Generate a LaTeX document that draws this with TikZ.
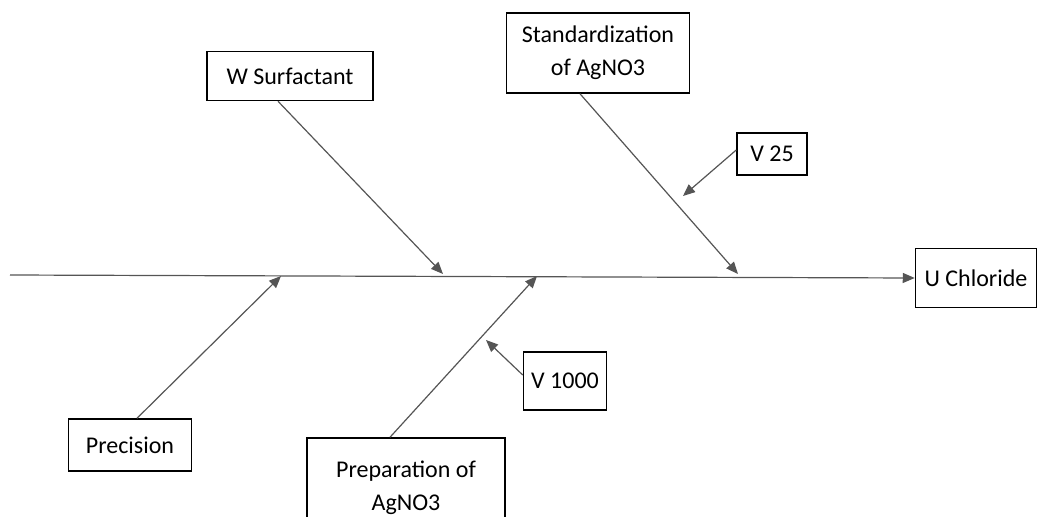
\documentclass[tikz,border=0pt]{standalone}
\usepackage{fontspec}
\setmainfont{Carlito}
\usetikzlibrary{arrows.meta}
\definecolor{boneGray}{HTML}{555555}

\tikzset{
  causebox/.style={draw=black, line width=1.5pt, fill=white, align=center,
    inner sep=0pt, font=\fontsize{24}{33}\selectfont},
  bone/.style={draw=boneGray, line width=1.2pt,
    -{Triangle[length=12pt,width=10pt]}}
}

\begin{document}
\begin{tikzpicture}[x=1pt,y=-1pt]
\useasboundingbox (0,0) rectangle (1037,517);
\clip (0,0) rectangle (1037,517);
% boxes
\node[causebox, minimum width=121pt, minimum height=59pt] (chloride) at (976,278) {U Chloride};
\node[causebox, minimum width=166pt, minimum height=49pt] (surf) at (290,76) {W Surfactant};
\node[causebox, minimum width=183pt, minimum height=80pt] (stand) at (598,53) {Standardization\\of AgNO3};
\node[causebox, minimum width=70pt, minimum height=42pt] (v25) at (772,154) {V 25};
\node[causebox, minimum width=123pt, minimum height=52pt] (prec) at (130,445) {Precision};
\node[causebox, minimum width=198pt, minimum height=110pt] (prep) at (406,493) {};
\node[font=\fontsize{24}{33}\selectfont, align=center] (preplab) at (406,488) {Preparation of\\AgNO3};
\node[causebox, minimum width=83pt, minimum height=58pt] (v1000) at (565,381) {V 1000};
% spine and bones
\coordinate (tail) at (10,275);
\coordinate (hitSurf) at (443,274);
\coordinate (hitStand) at (738,274);
\coordinate (hitPrec) at (281,276);
\coordinate (hitPrep) at (537,276);
\coordinate (hitV25) at (683,196);
\coordinate (hitV1000) at (486,340);
\draw[bone] (tail) -- (chloride.west);
\draw[bone] ([xshift=-12pt]surf.south) -- (hitSurf);
\draw[bone] ([xshift=-18pt]stand.south) -- (hitStand);
\draw[bone] ([xshift=7pt]prec.north) -- (hitPrec);
\draw[bone] ([xshift=-16pt]prep.north) -- (hitPrep);
\draw[bone] ([yshift=4pt]v25.west) -- (hitV25);
\draw[bone] ([yshift=6pt]v1000.west) -- (hitV1000);
\end{tikzpicture}
\end{document}
